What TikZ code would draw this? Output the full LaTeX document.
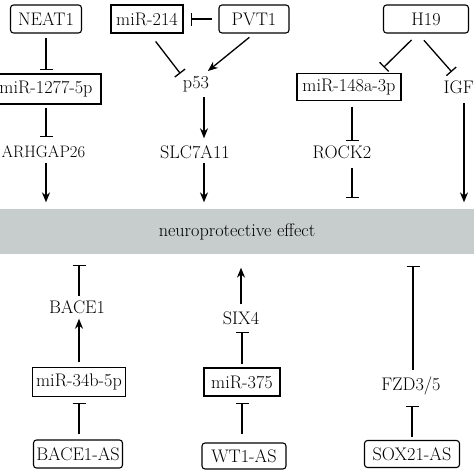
\documentclass[tikz,border=0pt]{standalone}
\usetikzlibrary{arrows.meta,calc}
\definecolor{bandgrey}{RGB}{198,205,204}

\begin{document}
\begin{tikzpicture}[x=1pt,y=-1pt,line width=1.3pt,
		font=\fontsize{18.2}{22}\selectfont,
		act/.style={-{Stealth[length=10pt,width=8pt]}},
		inh/.style={-{Bar[width=13pt]}},
		rna/.style={draw,line width=1.1pt,rounded corners=3pt,inner sep=0pt},
		mir/.style={draw,line width=1.1pt,inner sep=0pt},
		gene/.style={inner sep=2pt}]

		\useasboundingbox (0,0) rectangle (474,474);
		\clip (0,0) rectangle (474,474);

		% upper half
		\node[rna,minimum width=71pt,minimum height=28pt] (neat1) at (46,19) {NEAT1};
		\node[mir,minimum width=72pt,minimum height=28pt] (mir214) at (147,19) {miR-214};
		\node[rna,minimum width=70pt,minimum height=28pt] (pvt1) at (254,19) {PVT1};
		\node[rna,minimum width=85pt,minimum height=28pt] (h19) at (426,19) {H19};

		\node[mir,minimum width=110pt,minimum height=30pt] (mir1277) at (46,89) {miR-1277-5p};
		\node[gene] (p53) at (196,84) {p53};
		\node[mir,minimum width=104pt,minimum height=27pt] (mir148) at (349,87) {miR-148a-3p};
		\node[gene,anchor=west] (igf) at (441,87) {IGF};

		\node[gene,anchor=west,inner sep=1pt,font=\fontsize{16.6}{20}\selectfont] (arhgap) at (0,152) {ARHGAP26};
		\node[gene] (slc) at (195,152) {SLC7A11};
		\node[gene] (rock2) at (342,152) {ROCK2};

		% the band
		\node[fill=bandgrey,inner sep=0pt,minimum width=480pt,minimum height=45pt]
			(effect) at (237,231.5) {neuroprotective effect};

		% lower half
		\node[gene] (bace1) at (77,307) {BACE1};
		\node[gene] (six4) at (241,318) {SIX4};

		\node[mir,minimum width=93pt,minimum height=29pt] (mir34) at (79,382) {miR-34b-5p};
		\node[mir,minimum width=76pt,minimum height=28pt] (mir375) at (242,382) {miR-375};
		\node[gene] (fzd) at (411,386) {FZD3/5};

		\node[rna,minimum width=89pt,minimum height=28pt] (bace1as) at (78,454) {BACE1-AS};
		\node[rna,minimum width=84pt,minimum height=26pt] (wt1as) at (244,456) {WT1-AS};
		\node[rna,minimum width=95pt,minimum height=27pt] (sox21as) at (412,454) {SOX21-AS};

		\path
		(pvt1) edge[inh,shorten <=6pt,shorten >=7pt] (mir214)
		(neat1) edge[inh,shorten <=4pt,shorten >=3pt] (mir1277)
		(mir1277.south) edge[inh,shorten <=3pt,shorten >=7pt] (mir1277.south |- arhgap.north)
		(neat1 |- arhgap.south) edge[act,shorten <=3pt,shorten >=6pt] (neat1 |- effect.north)
		(mir214.-80) edge[inh,shorten <=10pt,shorten >=0pt] (p53.north west)
		(pvt1.south) edge[act,shorten <=6pt,shorten >=4pt] (p53.50)
		([xshift=8pt]p53.south) edge[act,shorten <=3pt,shorten >=4.5pt] ([xshift=8pt]p53.south |- slc.north)
		([xshift=9pt]slc.south) edge[act,shorten <=2pt,shorten >=6pt] ([xshift=9pt]slc.south |- effect.north)
		($(h19.south)+(-8,0)$) edge[inh,shorten <=9pt,shorten >=8pt] ($(mir148.north)+(29,0)$)
		($(h19.south)+(-8,0)$) edge[inh,shorten <=9pt,shorten >=8pt] ($(igf.north west)+(16,0)$)
		([xshift=3pt]mir148.south) edge[inh,shorten <=5.5pt,shorten >=1.5pt] ([xshift=3pt]mir148.south |- rock2.north)
		([xshift=10pt]rock2.south) edge[inh,shorten <=7pt,shorten >=10pt] ([xshift=10pt]rock2.south |- effect.north)
		($(igf.south west)+(23,0)$) edge[act,shorten <=7pt,shorten >=6pt] ($(igf.south west |- effect.north)+(23,0)$)
		([xshift=2pt]bace1.north) edge[inh,shorten <=1.5pt,shorten >=10pt] ([xshift=2pt]bace1.north |- effect.south)
		(mir34) edge[act,shorten <=4.5pt,shorten >=2.5pt] (mir34 |- bace1.south)
		(bace1as.north -| mir34) edge[inh,shorten <=5pt,shorten >=5.5pt] (mir34)
		(six4) edge[act,shorten <=4.5pt,shorten >=13pt] (six4 |- effect.south)
		(mir375) edge[inh,shorten <=3pt,shorten >=4.5pt] (mir375 |- six4.south)
		(wt1as.north -| mir375) edge[inh,shorten <=8pt,shorten >=6pt] (mir375)
		([xshift=2pt]fzd.north) edge[inh,shorten <=4pt,shorten >=11pt] ([xshift=2pt]fzd.north |- effect.south)
		(sox21as) edge[inh,shorten <=2.5pt,shorten >=8pt] (sox21as |- fzd.south);
\end{tikzpicture}
\end{document}
